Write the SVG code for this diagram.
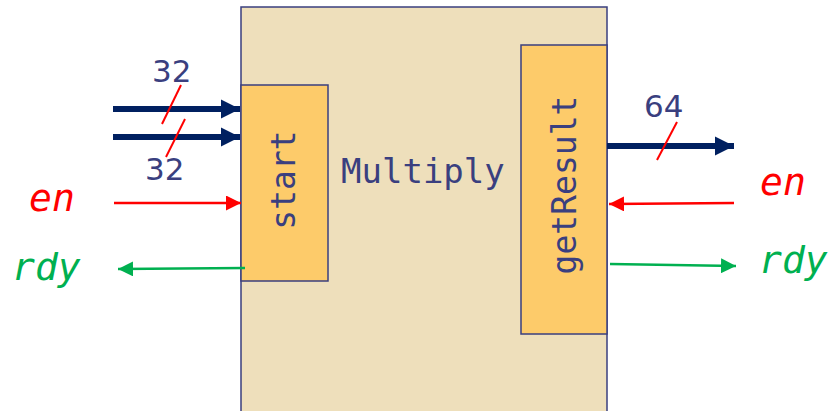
<svg xmlns="http://www.w3.org/2000/svg" width="830" height="411" viewBox="0 0 830 411">
<defs>
<style>
.box{stroke:#3A3F7F;stroke-width:1.5}
.lbl{font-family:"DejaVu Sans Mono",monospace;fill:#3A3F7F}
.num{font-family:"DejaVu Sans",sans-serif;fill:#3A3F7F;font-size:31px}
.sig{font-family:"DejaVu Sans Mono",monospace;font-style:italic;font-size:38px}
.bus{stroke:#002060;stroke-width:6;fill:none}
.slash{stroke:#FF0000;stroke-width:2}
</style>
<marker id="ab" viewBox="0 0 10 10" refX="10" refY="5" markerWidth="3.2" markerHeight="3.2" orient="auto" markerUnits="strokeWidth"><path d="M0,0L10,5L0,10z" fill="#002060"/></marker>
<marker id="ar" viewBox="0 0 10 10" refX="10" refY="5" markerWidth="6" markerHeight="6" orient="auto" markerUnits="strokeWidth"><path d="M0,0L10,5L0,10z" fill="#FF0000"/></marker>
<marker id="ag" viewBox="0 0 10 10" refX="10" refY="5" markerWidth="6" markerHeight="6" orient="auto" markerUnits="strokeWidth"><path d="M0,0L10,5L0,10z" fill="#00B050"/></marker>
</defs>
<g id="multiply">
<rect class="box" x="241" y="7" width="366" height="420" fill="#EEDFBB"/>
<text class="lbl" x="341" y="183" font-size="34">Multiply</text>
</g>
<g id="start">
<rect class="box" x="241" y="85" width="87" height="196" fill="#FDCB6A"/>
<text class="lbl" font-size="33" text-anchor="middle" transform="translate(295,180) rotate(-90)">start</text>
</g>
<g id="getResult">
<rect class="box" x="521" y="45" width="86" height="289" fill="#FDCB6A"/>
<text class="lbl" font-size="33" text-anchor="middle" transform="translate(576,185) rotate(-90)">getResult</text>
</g>
<g id="connectors">
<line class="bus" x1="113" y1="109" x2="240" y2="109" marker-end="url(#ab)"/>
<line class="bus" x1="113" y1="137" x2="240" y2="137" marker-end="url(#ab)"/>
<line class="bus" x1="607" y1="146" x2="734" y2="146" marker-end="url(#ab)"/>
<line class="slash" x1="181" y1="85" x2="162" y2="124"/>
<line class="slash" x1="185" y1="119" x2="166" y2="157"/>
<line class="slash" x1="677" y1="122" x2="657" y2="160"/>
<line x1="114" y1="203" x2="241" y2="203" stroke="#FF0000" stroke-width="2.5" marker-end="url(#ar)"/>
<line x1="245" y1="268" x2="118" y2="269" stroke="#00B050" stroke-width="2.5" marker-end="url(#ag)"/>
<line x1="734" y1="203" x2="609" y2="204" stroke="#FF0000" stroke-width="2.5" marker-end="url(#ar)"/>
<line x1="610" y1="264" x2="736" y2="266" stroke="#00B050" stroke-width="2.5" marker-end="url(#ag)"/>
</g>
<g id="labels">
<text class="num" x="152" y="82">32</text>
<text class="num" x="145" y="180">32</text>
<text class="num" x="644" y="117">64</text>
<text class="sig" x="29" y="211" fill="#FF0000">en</text>
<text class="sig" x="12" y="280" fill="#00B050">rdy</text>
<text class="sig" x="760" y="195" fill="#FF0000">en</text>
<text class="sig" x="759" y="273" fill="#00B050">rdy</text>
</g>
</svg>
